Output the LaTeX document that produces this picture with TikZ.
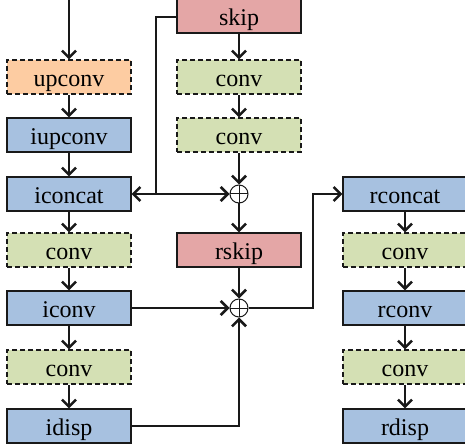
\documentclass[tikz,border=0pt]{standalone}
\usepackage{fontspec}
\setmainfont{Liberation Serif}
\usetikzlibrary{arrows.meta,positioning}
\definecolor{cblue}{RGB}{167,193,224}
\definecolor{cgreen}{RGB}{212,224,180}
\definecolor{corange}{RGB}{253,204,162}
\definecolor{cred}{RGB}{228,166,166}
\definecolor{cline}{RGB}{25,25,25}
\begin{document}
\begin{tikzpicture}[x=1pt,y=-1pt,
  box/.style={draw=cline,line width=1.1pt,minimum width=124pt,minimum height=34pt,inner sep=0pt,
    text height=19pt,text depth=0pt,font=\fontsize{24}{28}\selectfont},
  solidbox/.style={box},
  dashbox/.style={box,dashed,dash pattern=on 5pt off 3pt},
  plusnode/.style={draw=cline,line width=1pt,circle,minimum size=18pt,inner sep=0pt,
    path picture={\draw[cline,line width=1pt] (path picture bounding box.north) -- (path picture bounding box.south)
      (path picture bounding box.west) -- (path picture bounding box.east);}},
  conn/.style={draw=cline,line width=1.2pt},
  arr/.style={conn,-{Straight Barb[length=7pt,width=14pt,line width=2.6pt]}},
]
\useasboundingbox (0,0) rectangle (465,446);
\clip (0,0) rectangle (465,446);
% left column
\node[dashbox,fill=corange] (upconv) at (69,77) {upconv};
\node[solidbox,fill=cblue] (iupconv) at (69,135) {iupconv};
\node[solidbox,fill=cblue] (iconcat) at (69,194) {iconcat};
\node[dashbox,fill=cgreen] (lconv1) at (69,250) {conv};
\node[solidbox,fill=cblue] (iconv) at (69,308) {iconv};
\node[dashbox,fill=cgreen] (lconv2) at (69,367) {conv};
\node[solidbox,fill=cblue] (idisp) at (69,426) {idisp};
% middle column
\node[solidbox,fill=cred] (skip) at (239,16) {skip};
\node[dashbox,fill=cgreen] (mconv1) at (239,77) {conv};
\node[dashbox,fill=cgreen] (mconv2) at (239,135) {conv};
\node[plusnode] (p1) at (239,194) {};
\node[solidbox,fill=cred] (rskip) at (239,250) {rskip};
\node[plusnode] (p2) at (239,308) {};
% right column
\node[solidbox,fill=cblue] (rconcat) at (405,194) {rconcat};
\node[dashbox,fill=cgreen] (rconv1) at (405,250) {conv};
\node[solidbox,fill=cblue] (rconv) at (405,308) {rconv};
\node[dashbox,fill=cgreen] (rconv2) at (405,367) {conv};
\node[solidbox,fill=cblue] (rdisp) at (405,426) {rdisp};
% coordinates
\coordinate (top) at (69,0);
\coordinate (sj) at (156,194);
\coordinate (rj) at (313,308);
% left chain
\draw[arr] (top) -- (upconv.north);
\draw[arr] (upconv) -- (iupconv);
\draw[arr] (iupconv) -- (iconcat);
\draw[arr] (iconcat) -- (lconv1);
\draw[arr] (lconv1) -- (iconv);
\draw[arr] (iconv) -- (lconv2);
\draw[arr] (lconv2) -- (idisp);
% middle chain
\draw[arr] (skip) -- (mconv1);
\draw[arr] (mconv1) -- (mconv2);
\draw[arr] (mconv2) -- (p1);
\draw[arr] (p1) -- (rskip);
\draw[arr] (rskip) -- (p2);
% skip branch
\draw[conn] (skip.west |- 0,17) -| (sj);
\draw[arr] (sj) -- (iconcat.east);
\draw[arr] (sj) -- (p1.west);
% into p2
\draw[arr] (iconv.east) -- (p2.west);
\draw[arr] (idisp.east) -| (p2.south);
% to right
\draw[arr] (p2.east) -- (rj) |- (rconcat.west);
% right chain
\draw[arr] (rconcat) -- (rconv1);
\draw[arr] (rconv1) -- (rconv);
\draw[arr] (rconv) -- (rconv2);
\draw[arr] (rconv2) -- (rdisp);
\end{tikzpicture}
\end{document}
